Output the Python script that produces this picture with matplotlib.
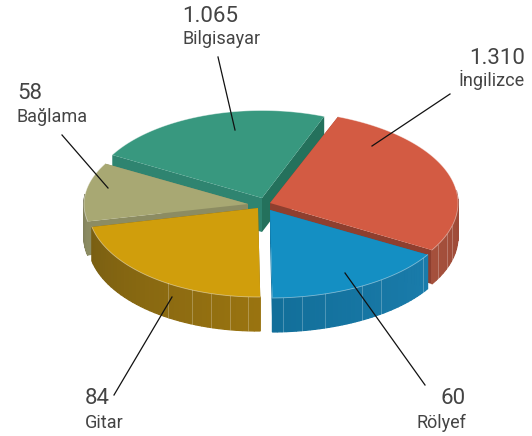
import numpy as np
import matplotlib
matplotlib.use('Agg')
import matplotlib.pyplot as plt

# slice sizes as they look in the picture (the printed numbers are not to scale)
names = ['İngilizce', 'Rölyef', 'Gitar', 'Bağlama', 'Bilgisayar']
values = ['1.310', '60', '84', '58', '1.065']
shares = [27.6, 16.3, 21.8, 11.6, 22.7]

top_colors = ['#D35B43', '#148FC3', '#D09E0C', '#A8A873', '#38987F']
cut_colors = ['#8E3F2F', '#1276A4', '#7E6212', '#8C8C62', '#24715C']
wall_left = ['#A5503C', '#126F9A', '#7A5F12', '#5F6050', '#2A7A66']
wall_right = ['#8E3F2F', '#1A7CAB', '#9A7410', '#8C8C62', '#2F8470']

# apex x, apex y, radius x, radius y of each exploded slice
apex_x = [270, 270, 258, 248, 262]
apex_y = [203, 210, 208, 204, 198]
radius_x = [188, 183, 170, 164, 172]
radius_y = [92.5, 88, 89, 82, 87.5]
depth = 34
start = 68.8

rib_angles = [[-26.8, -19.8, -14.5], [-86, -80, -72.5, -60, -52.7, -33],
              [-122, -113, -106, -99.5, -93.4], [], []]

# drawn back to front
order = [4, 3, 0, 2, 1]

# value label, name label and leader line for each slice
label_x = [525, 466, 85, 17, 182]
label_ha = ['right', 'right', 'left', 'left', 'left']
value_y = [64, 404, 404, 99, 22]
name_y = [86, 428, 428, 122, 44]
line_from = [(450, 94), (425, 385), (114, 395), (62, 135), (218, 57)]
line_to = [(372, 146), (345, 273), (172, 297), (108, 188), (235, 130)]

plt.rcParams['font.family'] = ['Roboto', 'DejaVu Sans']

fig = plt.figure(figsize=(5.32, 4.36), dpi=100)
ax = fig.add_axes([0, 0, 1, 1])
ax.set_xlim(0, 532)
ax.set_ylim(436, 0)
ax.axis('off')

ends = start - np.cumsum(shares) * 3.6
begins = np.concatenate([[start], ends[:-1]])


def rim(i, a):
    t = np.radians(a)
    return apex_x[i] + radius_x[i] * np.cos(t), apex_y[i] - radius_y[i] * np.sin(t)


def mix(c1, c2, f):
    a = np.array(matplotlib.colors.to_rgb(c1))
    b = np.array(matplotlib.colors.to_rgb(c2))
    return a + (b - a) * f


for i in order:
    a0, a1 = begins[i], ends[i]
    cx, cy = apex_x[i], apex_y[i]

    # flat cut faces
    for a in [a0, a1]:
        x, y = rim(i, a)
        col = cut_colors[i]
        if i == 4 and a == a0:
            col = wall_right[4]
        ax.fill([cx, x, x, cx], [cy, y, y + depth, cy + depth], color=col, lw=0)

    # outer wall, only the part that faces us
    angs = np.linspace(a1, a0, 40)
    for k in range(len(angs) - 1):
        if np.sin(np.radians((angs[k] + angs[k + 1]) / 2)) > 0.12:
            continue
        x1, y1 = rim(i, angs[k])
        x2, y2 = rim(i, angs[k + 1])
        c = mix(wall_left[i], wall_right[i], k / 39)
        ax.fill([x1, x2, x2, x1], [y1, y2, y2 + depth, y1 + depth],
                fc=c, ec=c, lw=0.9)
    for a in rib_angles[i]:
        x, y = rim(i, a)
        ax.plot([x, x], [y, y + depth], color='white', alpha=0.25, lw=0.7)

    # top face
    angs = np.linspace(a0, a1, 120)
    x, y = rim(i, angs)
    ax.fill(np.r_[cx, x], np.r_[cy, y], color=top_colors[i], lw=0)
    ax.plot(x, y, color='white', alpha=0.45, lw=0.6)

for i in range(len(names)):
    ax.text(label_x[i], value_y[i], values[i], ha=label_ha[i], va='baseline',
            fontsize=16, color='#444444')
    ax.text(label_x[i], name_y[i], names[i], ha=label_ha[i], va='baseline',
            fontsize=13, color='#444444')
    ax.plot([line_from[i][0], line_to[i][0]], [line_from[i][1], line_to[i][1]],
            color='#111111', lw=0.9)

fig.savefig('out.png', dpi=100)
